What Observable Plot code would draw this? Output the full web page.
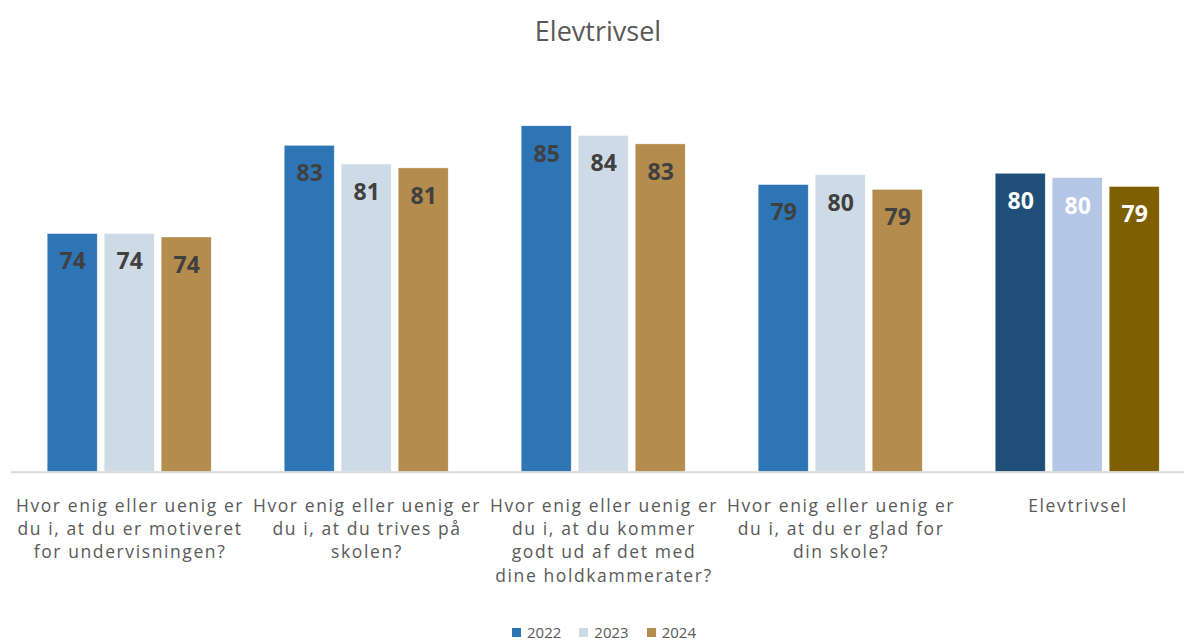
<!DOCTYPE html>
<html>
<head>
<meta charset="utf-8">
<script src="https://cdn.jsdelivr.net/npm/d3@7"></script>
<script src="https://cdn.jsdelivr.net/npm/@observablehq/plot@0.6"></script>
<style>
  html, body { margin: 0; padding: 0; background: #fff; overflow: hidden; }
  #wrap { width: 1196px; font-family: "Open Sans", sans-serif; }
  #title { height: 58px; text-align: center; font-size: 27px; color: #595959; line-height: 62px; }
  #legend { display: flex; justify-content: center; align-items: center; gap: 18px; font-size: 15px; color: #595959; height: 24px; margin-top: 2px; padding-left: 12px; }
  #legend span.sw { display: inline-block; width: 9px; height: 9px; margin-right: 6px; }
  #legend .item { display: flex; align-items: center; }
  g[aria-label="fx-axis tick label"] text { letter-spacing: 1.6px; }
</style>
</head>
<body>
<div id="wrap">
  <div id="title">Elevtrivsel</div>
  <div id="chart"></div>
  <div id="legend"></div>
</div>
<script>
// Categories (tick labels, with line breaks as in the reference)
const groups = [
  "Hvor enig eller uenig er\ndu i, at du er motiveret\nfor undervisningen?",
  "Hvor enig eller uenig er\ndu i, at du trives på\nskolen?",
  "Hvor enig eller uenig er\ndu i, at du kommer\ngodt ud af det med\ndine holdkammerater?",
  "Hvor enig eller uenig er\ndu i, at du er glad for\ndin skole?",
  "Elevtrivsel"
];
const years = ["2022", "2023", "2024"];

// Series values
const v2022 = [74.3, 83.3, 85.3, 79.3, 80.45];
const v2023 = [74.3, 81.4, 84.3, 80.3, 80.0];
const v2024 = [73.95, 81.0, 83.45, 78.8, 79.1];

// Colours per year; the summary group uses other shades
const colorsQuestions = ["#2E75B6", "#CEDBE6", "#B38C4E"];
const colorsSummary = ["#1F4E79", "#B4C7E7", "#7F6000"];
const labelColorQuestions = "#404040";
const labelColorSummary = "#FFFFFF";

const series = [v2022, v2023, v2024];
const data = [];
groups.forEach((g, gi) => {
  years.forEach((y, yi) => {
    const summary = gi === groups.length - 1;
    data.push({
      group: g,
      year: y,
      value: series[yi][gi],
      fill: summary ? colorsSummary[yi] : colorsQuestions[yi],
      ink: summary ? labelColorSummary : labelColorQuestions
    });
  });
});

const chart = Plot.plot({
  width: 1196,
  height: 560,
  marginLeft: 10.8,
  marginRight: 0,
  marginTop: 21.7,
  marginBottom: 146.3,
  style: { fontFamily: "Open Sans, sans-serif", background: "white" },
  fx: { domain: groups, padding: 0, label: null },
  x: { domain: years, paddingInner: 0.122, paddingOuter: 0.622, axis: null },
  y: { domain: [50, 90], axis: null },
  color: { type: "identity" },
  marks: [
    Plot.barY(data, { fx: "group", x: "year", y1: 50, y2: "value", fill: "fill", stroke: "white", strokeWidth: 0.6, strokeOpacity: 0.6 }),
    Plot.ruleY([50], { stroke: "#D9D9D9", strokeWidth: 2 }),
    Plot.text(data, {
      fx: "group", x: "year", y: "value",
      text: d => d3.format(".0f")(d.value),
      dy: 28, lineAnchor: "middle", fill: "ink",
      fontSize: 23, fontWeight: "bold"
    }),
    Plot.axisFx({
      anchor: "bottom", tickSize: 0, tickPadding: 23, label: null,
      fontSize: 17.5, lineHeight: 1.331, fill: "#595959"
    })
  ]
});
document.getElementById("chart").appendChild(chart);

// Legend (HTML, below the SVG)
const legend = document.getElementById("legend");
years.forEach((y, i) => {
  const item = document.createElement("div");
  item.className = "item";
  const sw = document.createElement("span");
  sw.className = "sw";
  sw.style.background = colorsQuestions[i];
  item.appendChild(sw);
  item.appendChild(document.createTextNode(y));
  legend.appendChild(item);
});
</script>
</body>
</html>
